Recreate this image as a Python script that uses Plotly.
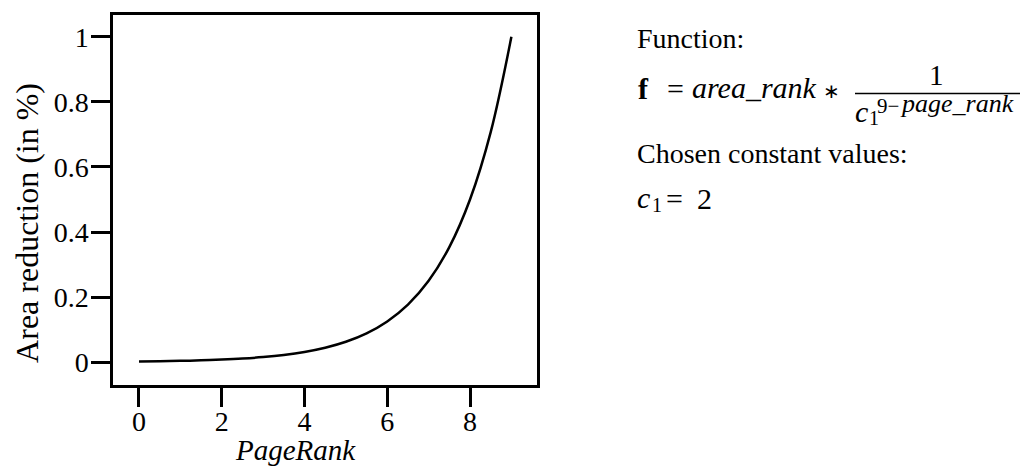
import plotly.graph_objects as go

# PageRank values and the resulting area reduction f = 1 / c1^(9 - page_rank), c1 = 2
page_rank = [0, 0.5, 1, 1.5, 2, 2.5, 3, 3.5, 4, 4.5, 5, 5.5, 6, 6.5, 7, 7.5, 8, 8.5, 9]
area_reduction = [0.00195, 0.00276, 0.0039, 0.0055, 0.0078, 0.011, 0.0156, 0.0221,
                  0.03125, 0.0442, 0.0625, 0.0884, 0.125, 0.1768, 0.25, 0.3536,
                  0.5, 0.7071, 1.0]

x_ticks = [0, 2, 4, 6, 8]
x_tick_labels = ["0", "2", "4", "6", "8"]
y_ticks = [0, 0.2, 0.4, 0.6, 0.8, 1]
y_tick_labels = ["0", "0.2", "0.4", "0.6", "0.8", "1"]

W, H = 1024, 467
L, R, T, B = 113, 537, 13, 385  # plot frame in pixels
SERIF = "Liberation Serif"


def px(x):
    return (x - L) / (R - L)


def py(y):
    return (B - y) / (B - T)


fig = go.Figure()
fig.add_trace(go.Scatter(
    x=page_rank, y=area_reduction, mode="lines",
    line=dict(color="black", width=2.5, shape="spline", smoothing=1.0),
    hoverinfo="skip", showlegend=False,
))

axis_common = dict(
    showline=True, mirror=True, linecolor="black", linewidth=2.5,
    ticks="outside", ticklen=19, tickwidth=2.5, tickcolor="black",
    showgrid=False, zeroline=False,
    tickfont=dict(family=SERIF, size=28, color="black"),
)
fig.update_xaxes(range=[-0.628, 9.619], tickvals=x_ticks, ticktext=x_tick_labels,
                 ticklabelstandoff=-9, **axis_common)
fig.update_yaxes(range=[-0.0703, 1.067], tickvals=y_ticks, ticktext=y_tick_labels,
                 ticklabelstandoff=-3, **axis_common)

anns = []


def text(x, y, s, size=28, xanchor="left", yanchor="middle", angle=0):
    anns.append(dict(x=px(x), y=py(y), xref="paper", yref="paper", text=s,
                     showarrow=False, xanchor=xanchor, yanchor=yanchor,
                     textangle=angle, borderpad=0,
                     font=dict(family=SERIF, size=size, color="black")))


# axis titles
text(295, 450, "<i>PageRank</i>", size=29, xanchor="center")
text(27, 222, "Area reduction (in %)", size=32, xanchor="center", angle=-90)

# function description on the right
text(636, 37, "Function:")
text(637, 87, "<b>f</b>", size=30)
text(675, 87, "=", size=30, xanchor="center")
text(691, 86, "<i>area_rank</i>", size=30)
text(831, 89, "∗", size=20, xanchor="center")
text(936, 73, "1", xanchor="center", size=29)
text(854, 110, "<i>c</i>", size=30)
text(868, 117, "1", size=20)
text(876, 104, "9−", size=21)
text(899, 102, "<i>page_rank</i>", size=26)
text(636, 152, "Chosen constant values:")
text(636, 196, "<i>c</i>", size=30)
text(651, 204, "1", size=20)
text(674, 197, "=", size=30, xanchor="center")
text(696, 197, "2", size=30)

fig.update_layout(
    width=W, height=H,
    margin=dict(l=L, r=W - R, t=T, b=H - B),
    paper_bgcolor="white", plot_bgcolor="white",
    annotations=anns,
    shapes=[dict(type="line", xref="paper", yref="paper",
                 x0=px(855), x1=px(1020), y0=py(92), y1=py(92),
                 line=dict(color="black", width=1.5))],
)

fig.write_html("out.html")
